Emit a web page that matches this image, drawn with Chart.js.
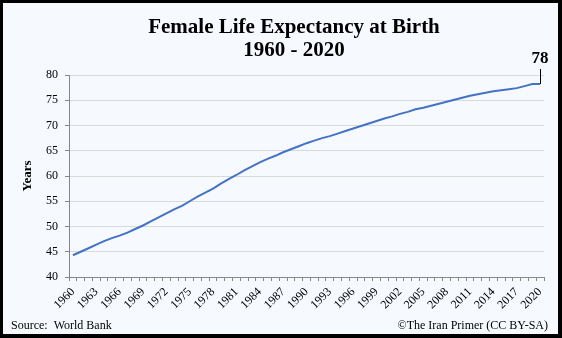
<!DOCTYPE html>
<html lang="en">

<head>
  <meta charset="UTF-8">
  <title>Female Life Expectancy at Birth</title>
  <script src="https://cdn.jsdelivr.net/npm/chart.js"></script>
  <style>
    body {
      margin: 0;
      padding: 0;
      background: #ffffff;
    }

    canvas {
      display: block;
    }
  </style>
</head>

<body>
  <canvas id="lifeChart" width="562" height="338"></canvas>

  <script>
    const serif = '"Liberation Serif", "Times New Roman", serif';

    // Iran, female life expectancy at birth (World Bank)
    const years = [
      1960, 1961, 1962, 1963, 1964, 1965, 1966, 1967, 1968, 1969,
      1970, 1971, 1972, 1973, 1974, 1975, 1976, 1977, 1978, 1979,
      1980, 1981, 1982, 1983, 1984, 1985, 1986, 1987, 1988, 1989,
      1990, 1991, 1992, 1993, 1994, 1995, 1996, 1997, 1998, 1999,
      2000, 2001, 2002, 2003, 2004, 2005, 2006, 2007, 2008, 2009,
      2010, 2011, 2012, 2013, 2014, 2015, 2016, 2017, 2018, 2019,
      2020
    ];
    const femaleLifeExpectancy = [
      44.3, 45.0, 45.7, 46.4, 47.1, 47.7, 48.2, 48.8, 49.5, 50.2,
      51.0, 51.8, 52.6, 53.4, 54.1, 55.0, 55.9, 56.7, 57.5, 58.5,
      59.4, 60.2, 61.1, 61.9, 62.7, 63.4, 64.0, 64.7, 65.3, 65.9,
      66.5, 67.0, 67.5, 67.9, 68.4, 68.9, 69.4, 69.9, 70.4, 70.9,
      71.4, 71.8, 72.3, 72.7, 73.2, 73.5, 73.9, 74.3, 74.7, 75.1,
      75.5, 75.9, 76.2, 76.5, 76.8, 77.0, 77.2, 77.4, 77.8, 78.2,
      78.2
    ];
    const yTicks = { min: 40, max: 80, step: 5 };
    const labelEvery = 3;
    const lastValueLabel = "78";

    const titleLines = ["Female Life Expectancy at Birth", "1960 - 2020"];
    const sourceText = "Source:  World Bank";
    const creditText = "\u00A9The Iran Primer (CC BY-SA)";

    // Frame, titles and footer drawn around the chart
    const framePlugin = {
      id: "frame",
      beforeDraw(chart) {
        const ctx = chart.ctx;
        ctx.save();
        ctx.fillStyle = "#000000";
        ctx.fillRect(0, 0, chart.width, chart.height);
        ctx.fillStyle = "#f6fafe";
        ctx.fillRect(3, 3, chart.width - 7, chart.height - 7);
        ctx.restore();
      },
      afterDraw(chart) {
        const ctx = chart.ctx;
        ctx.save();
        ctx.fillStyle = "#000000";

        // title
        ctx.font = "bold 21px " + serif;
        ctx.textAlign = "center";
        ctx.textBaseline = "alphabetic";
        ctx.fillText(titleLines[0], 294, 33);
        ctx.fillText(titleLines[1], 294, 56);

        // y axis title
        ctx.save();
        ctx.translate(28, 176);
        ctx.rotate(-Math.PI / 2);
        ctx.font = "bold 13px " + serif;
        ctx.textAlign = "center";
        ctx.textBaseline = "middle";
        ctx.fillText("Years", 0, 0);
        ctx.restore();

        // footer
        ctx.font = "12px " + serif;
        ctx.textAlign = "left";
        ctx.fillText(sourceText, 11, 329);
        ctx.textAlign = "right";
        ctx.fillText(creditText, 548, 329);

        // last value callout
        const pts = chart.getDatasetMeta(0).data;
        const last = pts[pts.length - 1];
        ctx.strokeStyle = "#000000";
        ctx.lineWidth = 1;
        ctx.beginPath();
        ctx.moveTo(Math.round(last.x) + 0.5, last.y - 15);
        ctx.lineTo(Math.round(last.x) + 0.5, last.y);
        ctx.stroke();
        ctx.font = "bold 17px " + serif;
        ctx.textAlign = "center";
        ctx.fillText(lastValueLabel, last.x, last.y - 21);

        ctx.restore();
      }
    };

    const ctx = document.getElementById("lifeChart").getContext("2d");
    new Chart(ctx, {
      type: "line",
      data: {
        labels: years,
        datasets: [{
          label: "Female life expectancy",
          data: femaleLifeExpectancy,
          borderColor: "#4472c4",
          borderWidth: 2,
          pointRadius: 0,
          tension: 0,
          fill: false,
        }],
      },
      options: {
        responsive: false,
        animation: false,
        layout: {
          padding: { left: 0, right: 18, top: 75, bottom: 0 },
        },
        plugins: {
          legend: { display: false },
          tooltip: { enabled: false },
        },
        scales: {
          x: {
            type: "category",
            offset: true,
            afterFit(scale) {
              scale.height = 61;
            },
            grid: {
              drawOnChartArea: false,
              drawTicks: true,
              tickLength: 4,
              tickColor: "#868686",
              offset: true,
            },
            border: { color: "#868686" },
            ticks: {
              autoSkip: false,
              maxRotation: 45,
              minRotation: 45,
              padding: 4,
              color: "#000000",
              font: { family: serif, size: 12 },
              callback: (value, index) => (index % labelEvery === 0 ? years[index] : ""),
            },
          },
          y: {
            min: yTicks.min,
            max: yTicks.max,
            afterFit(scale) {
              scale.width = 69;
            },
            grid: {
              color: "#d9d9d9",
              tickColor: "#868686",
              tickLength: 4,
            },
            border: { color: "#868686" },
            ticks: {
              stepSize: yTicks.step,
              padding: 7,
              color: "#000000",
              font: { family: serif, size: 12 },
            },
          },
        },
      },
      plugins: [framePlugin],
    });
  </script>
</body>

</html>
